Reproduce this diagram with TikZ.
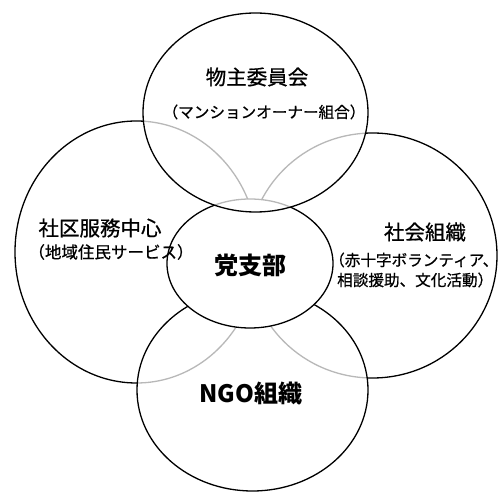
\documentclass[tikz,border=0pt]{standalone}
\usepackage{fontspec}
\setmainfont{Noto Sans CJK JP}
\newfontfamily\cjkmed{Noto Sans CJK JP}[RawFeature={embolden=0.7}]
\usetikzlibrary{shapes.geometric}
\begin{document}
\begin{tikzpicture}[x=1pt,y=-1pt,
  ring/.style={ellipse, draw=black, line width=1.3pt, fill=white, inner sep=0pt, outer sep=0pt},
  veil/.style={ring, fill opacity=0.72},
  big/.style={inner sep=0pt, font=\fontsize{20.5}{22}\selectfont\cjkmed},
  small/.style={inner sep=0pt, font=\fontsize{15.6}{18}\selectfont\cjkmed},
  bold/.style={inner sep=0pt, font=\fontsize{24}{26}\selectfont\bfseries}]
\useasboundingbox (0,0) rectangle (499,494);
% bottom layer
\node[ring, minimum width=243pt, minimum height=262pt] (left) at (136.5,252) {};
\node[ring, minimum width=249pt, minimum height=245pt] (right) at (372.5,255.5) {};
% NGO (translucent)
\node[veil, minimum width=231pt, minimum height=202pt] (ngo) at (252.5,390) {};
% centre (opaque)
\node[ring, minimum width=166pt, minimum height=129pt] (party) at (250,263.5) {};
% top (translucent)
\node[veil, minimum width=225pt, minimum height=199pt] (owners) at (255.5,112.5) {};
% texts
\node[big] (t1) at (257,77) {物主委員会};
\node[small] (t1b) at (264,112) {（マンションオーナー組合）};
\node[big] (t2) at (100,228) {社区服務中心};
\node[small, font=\fontsize{16.5}{18}\selectfont\cjkmed] (t2b) at (111,252) {（地域住民サービス）};
\node[bold] (t3) at (250,265) {党支部};
\node[bold] (t4) at (251,393) {NGO組織};
\node[big] (t5) at (425,232) {社会組織};
\node[small, anchor=west] (t5b) at (329,260) {（赤十字ボランティア、};
\node[small, anchor=west] (t5c) at (337,280) {相談援助、文化活動）};
\end{tikzpicture}
\end{document}
